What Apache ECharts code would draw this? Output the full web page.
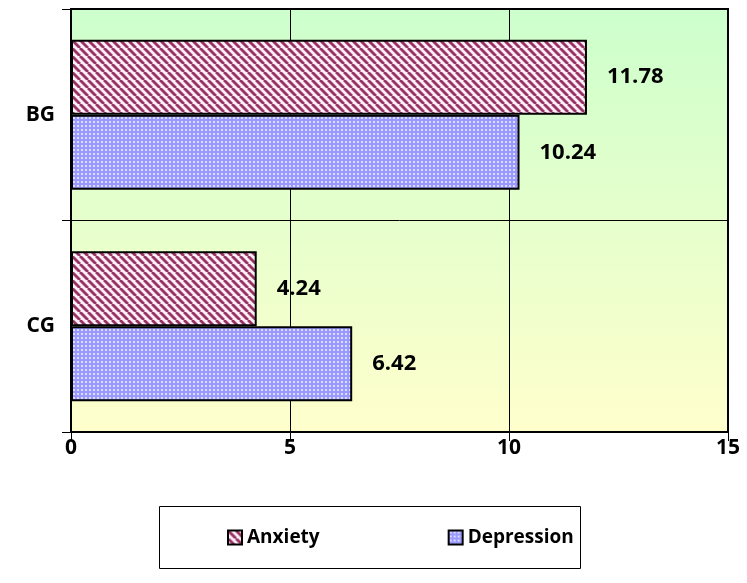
<!DOCTYPE html>
<html>
<head>
<meta charset="utf-8">
<script src="https://cdn.jsdelivr.net/npm/echarts@6/dist/echarts.min.js"></script>
<style>
html,body{margin:0;padding:0;background:#fff;}
#chart{width:747px;height:583px;}
</style>
</head>
<body>
<div id="chart"></div>
<script>
const categories = ['BG', 'CG'];
const seriesNames = ['Anxiety', 'Depression'];
const anxiety = [11.78, 4.24];
const depression = [10.24, 6.42];
const xTicks = [0, 5, 10, 15];

function stripePattern() {
  const c = document.createElement('canvas');
  c.width = 8; c.height = 8;
  const g = c.getContext('2d');
  g.fillStyle = '#fbeef4';
  g.fillRect(0, 0, 8, 8);
  g.strokeStyle = '#993366';
  g.lineWidth = 2.8;
  for (let k = -16; k <= 16; k += 8) {
    g.beginPath();
    g.moveTo(k, 0);
    g.lineTo(k + 8, 8);
    g.stroke();
  }
  return c;
}
function dotPattern() {
  const c = document.createElement('canvas');
  c.width = 4; c.height = 4;
  const g = c.getContext('2d');
  g.fillStyle = '#9999ff';
  g.fillRect(0, 0, 4, 4);
  g.fillStyle = '#dcdcff';
  g.fillRect(1, 1, 2, 2);
  return c;
}
const anxFill = { image: stripePattern(), repeat: 'repeat' };
const depFill = { image: dotPattern(), repeat: 'repeat' };

const font = '"Open Sans", Lato, sans-serif';
const chart = echarts.init(document.getElementById('chart'), null, { renderer: 'canvas' });

const labelCfg = {
  show: true, position: 'right', distance: 20,
  fontFamily: font, fontWeight: 'bold', fontSize: 22, color: '#000',
  formatter: p => p.value.toFixed(2)
};

chart.setOption({
  animation: false,
  grid: {
    left: 71, top: 9, right: 19, bottom: 151,
    show: true,
    borderColor: '#000', borderWidth: 2,
    backgroundColor: new echarts.graphic.LinearGradient(0, 0, 0, 1, [
      { offset: 0, color: '#ccffcc' },
      { offset: 1, color: '#ffffcc' }
    ])
  },
  xAxis: {
    type: 'value', min: xTicks[0], max: xTicks[xTicks.length - 1], interval: 5,
    axisLine: { show: true, lineStyle: { color: '#000', width: 2 } },
    axisTick: { show: true, length: 9, lineStyle: { color: '#000', width: 1 } },
    splitLine: { show: true, lineStyle: { color: '#000', width: 1 } },
    axisLabel: { fontFamily: font, fontWeight: 'bold', fontSize: 21, color: '#000', margin: 6 }
  },
  yAxis: {
    type: 'category', data: categories, inverse: true,
    axisLine: { show: true, lineStyle: { color: '#000', width: 2 } },
    axisTick: { show: true, length: 9, lineStyle: { color: '#000', width: 1 } },
    splitLine: { show: true, lineStyle: { color: '#000', width: 1 } },
    axisLabel: { fontFamily: font, fontWeight: 'bold', fontSize: 21, color: '#000', margin: 16 }
  },
  legend: {
    data: seriesNames,
    left: 222, top: 523,
    itemWidth: 14, itemHeight: 14, itemGap: 128,
    icon: 'rect',
    textStyle: { fontFamily: font, fontWeight: 'bold', fontSize: 19, color: '#000' }
  },
  graphic: [{
    type: 'rect', left: 157, top: 504,
    shape: { width: 421, height: 62 },
    style: { fill: 'none', stroke: '#000', lineWidth: 1 },
    silent: true
  }],
  series: [
    {
      name: seriesNames[0], type: 'bar', data: anxiety,
      barGap: '0%', barCategoryGap: '29%',
      itemStyle: { color: anxFill, borderColor: '#000', borderWidth: 2 },
      label: labelCfg
    },
    {
      name: seriesNames[1], type: 'bar', data: depression,
      barGap: '0%', barCategoryGap: '29%',
      itemStyle: { color: depFill, borderColor: '#000', borderWidth: 2 },
      label: labelCfg
    }
  ]
});
</script>
</body>
</html>
